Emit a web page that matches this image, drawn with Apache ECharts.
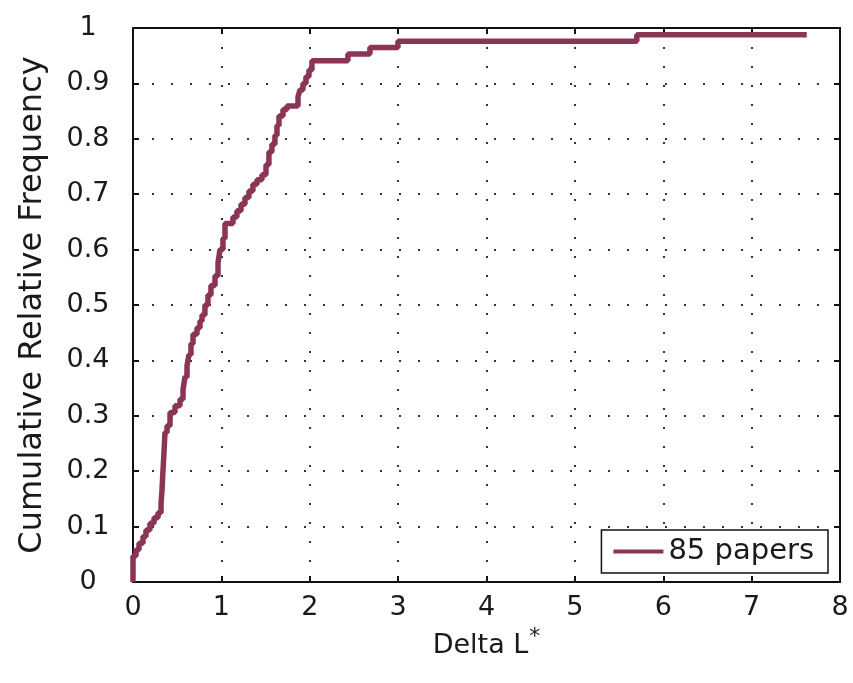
<!DOCTYPE html>
<html>
<head>
<meta charset="utf-8">
<script src="https://cdn.jsdelivr.net/npm/echarts@6/dist/echarts.min.js"></script>
<style>
  html, body { margin: 0; padding: 0; background: #fff; }
  #chart { width: 853px; height: 683px; }
</style>
</head>
<body>
<div id="chart"></div>
<script>
// Empirical CDF of Delta L* over 85 papers (stair points: value holds from x onward)
const deltaL = [
  0.000, 0.000, 0.034, 0.068, 0.113, 0.147, 0.192, 0.238, 0.283, 0.317,
  0.328, 0.339, 0.351, 0.362, 0.385, 0.419, 0.475, 0.532, 0.566, 0.588,
  0.611, 0.633, 0.656, 0.679, 0.724, 0.758, 0.781, 0.814, 0.848, 0.882,
  0.928, 0.962, 0.984, 1.018, 1.041, 1.131, 1.176, 1.222, 1.267, 1.312,
  1.357, 1.403, 1.459, 1.505, 1.538, 1.572, 1.606, 1.629, 1.652, 1.697,
  1.742, 1.867, 1.889, 1.923, 1.957, 1.991, 2.025, 2.432, 2.681, 2.998,
  5.701, 7.624
];
const cumFreq = [
  0.000, 0.047, 0.058, 0.070, 0.082, 0.094, 0.106, 0.116, 0.125, 0.141,
  0.165, 0.200, 0.235, 0.270, 0.282, 0.306, 0.318, 0.330, 0.347, 0.370,
  0.390, 0.410, 0.430, 0.447, 0.459, 0.471, 0.482, 0.500, 0.518, 0.535,
  0.553, 0.576, 0.600, 0.620, 0.647, 0.659, 0.670, 0.682, 0.694, 0.706,
  0.718, 0.726, 0.735, 0.753, 0.776, 0.790, 0.806, 0.824, 0.841, 0.853,
  0.859, 0.876, 0.888, 0.900, 0.912, 0.924, 0.941, 0.953, 0.965, 0.976,
  0.988, 0.988
];
const seriesName = '85 papers';
const xTicks = [0, 1, 2, 3, 4, 5, 6, 7, 8];
const yTicks = [0, 0.1, 0.2, 0.3, 0.4, 0.5, 0.6, 0.7, 0.8, 0.9, 1];

const FONT = '"DejaVu Sans", "Noto Sans", sans-serif';
const TEXT = '#1a1a1a';
const LINE = '#8a3456';

const points = deltaL.map((x, i) => [x, cumFreq[i]]);

const dotted = { show: true, lineStyle: { color: '#333', width: 2, type: [2, 17] } };
const frame = { show: true, onZero: false, lineStyle: { color: '#111', width: 2 } };
const ticksIn = { show: true, inside: true, length: 6, lineStyle: { color: '#111', width: 2 } };

const chart = echarts.init(document.getElementById('chart'), null, { renderer: 'canvas' });
chart.setOption({
  backgroundColor: '#fff',
  animation: false,
  grid: { left: 133, right: 13, top: 28, bottom: 101 },
  xAxis: [
    {
      type: 'value', min: 0, max: 8, interval: 1, position: 'bottom',
      axisLine: frame, axisTick: ticksIn, splitLine: dotted,
      axisLabel: { color: TEXT, fontFamily: FONT, fontSize: 27, margin: 12 },
      name: 'Delta L{s|*}', nameLocation: 'middle', nameGap: 36,
      nameTextStyle: {
        color: TEXT, fontFamily: FONT, fontSize: 27,
        rich: { s: { fontFamily: FONT, fontSize: 22, color: TEXT, verticalAlign: 'top', padding: [0, 0, 18, 1] } }
      }
    },
    {
      type: 'value', min: 0, max: 8, interval: 1, position: 'top',
      axisLine: frame, axisTick: ticksIn, splitLine: { show: false }, axisLabel: { show: false }
    }
  ],
  yAxis: [
    {
      type: 'value', min: 0, max: 1, interval: 0.1, position: 'left',
      axisLine: frame, axisTick: ticksIn, splitLine: dotted,
      axisLabel: {
        color: TEXT, fontFamily: FONT, fontSize: 27, align: 'center', margin: 45,
        formatter: v => String(Math.round(v * 10) / 10)
      },
      name: 'Cumulative Relative Frequency', nameLocation: 'middle', nameGap: 84,
      nameTextStyle: { color: TEXT, fontFamily: FONT, fontSize: 32 }
    },
    {
      type: 'value', min: 0, max: 1, interval: 0.1, position: 'right',
      axisLine: frame, axisTick: ticksIn, splitLine: { show: false }, axisLabel: { show: false }
    }
  ],
  legend: {
    data: [{ name: seriesName, icon: 'rect' }],
    right: 25, top: 530,
    itemWidth: 50, itemHeight: 4, itemGap: 10,
    padding: [7, 14, 7, 12],
    borderColor: '#111', borderWidth: 1.5, backgroundColor: '#fff',
    textStyle: { color: TEXT, fontFamily: FONT, fontSize: 29 }
  },
  series: [
    {
      name: seriesName, type: 'line', step: 'end',
      data: points, showSymbol: false, symbol: 'none',
      color: LINE,
      lineStyle: { color: LINE, width: 5.5 },
      z: 3
    }
  ]
});
</script>
</body>
</html>
